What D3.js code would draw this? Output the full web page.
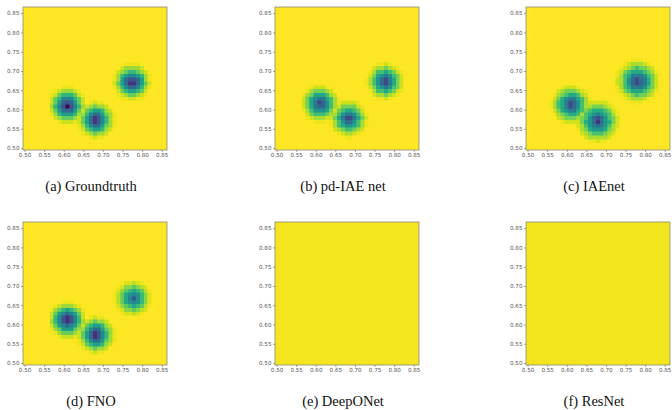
<!DOCTYPE html>
<html>
<head>
<meta charset="utf-8">
<script src="https://cdn.jsdelivr.net/npm/d3@7"></script>
<style>
  body { margin: 0; background: #fff; }
  svg { display: block; }
</style>
</head>
<body>
<svg id="chart" width="672" height="410"></svg>
<script>
// tick labels on both axes
const xTicks = [0.50, 0.55, 0.60, 0.65, 0.70, 0.75, 0.80, 0.85];
const yTicks = [0.50, 0.55, 0.60, 0.65, 0.70, 0.75, 0.80, 0.85];

const panelLabels = ["(a) Groundtruth", "(b) pd-IAE net", "(c) IAEnet",
                     "(d) FNO", "(e) DeepONet", "(f) ResNet"];

// blobs: [x, y, depth, spread]
const groundtruthBlobs = [[0.610, 0.612, 1.00, 0.95], [0.683, 0.575, 0.96, 0.95], [0.775, 0.673, 0.97, 0.95]];
const pdIaeBlobs       = [[0.612, 0.617, 0.90, 0.95], [0.685, 0.578, 0.88, 0.95], [0.778, 0.675, 0.88, 0.95]];
const iaenetBlobs      = [[0.612, 0.615, 0.88, 1.0], [0.680, 0.572, 0.85, 1.1], [0.782, 0.675, 0.88, 1.1]];
const fnoBlobs         = [[0.610, 0.614, 0.98, 0.95], [0.683, 0.575, 0.98, 0.95], [0.778, 0.670, 0.72, 0.95]];
const deeponetBlobs    = [];
const resnetBlobs      = [];
const panelBlobs = [groundtruthBlobs, pdIaeBlobs, iaenetBlobs, fnoBlobs, deeponetBlobs, resnetBlobs];

// background level of each field (1 = top of colormap)
const panelBackground = [1, 1, 1, 1, 0.985, 0.983];

// colour level by half-cell distance from a blob centre
const ringProfile = [0.0, 0.12, 0.25, 0.33, 0.45, 0.55, 0.66, 0.76, 0.85, 0.92, 0.97, 1];

const cellSize = 0.01;
const gridCenters = d3.range(37).map(i => 0.5 + cellSize * i);

const svg = d3.select("#chart");
const plotW = 144, plotH = 143;
const colX = [23, 275, 526];
const rowY = [7, 222];

const x = d3.scaleLinear().domain([0.496, 0.8635]).range([0, plotW]);
const y = d3.scaleLinear().domain([0.495, 0.866]).range([plotH, 0]);
const color = d3.interpolateViridis;

function fieldValue(px, py, blobs, bg) {
  let v = bg;
  blobs.forEach(([bx, by, depth, spread]) => {
    const d = Math.hypot(px - bx, py - by) / (cellSize * spread);
    const idx = Math.round(d * 2);
    const p = idx < ringProfile.length ? ringProfile[idx] : 1;
    v = Math.min(v, 1 - depth * (1 - p));
  });
  return v;
}

panelLabels.forEach((label, k) => {
  const col = k % 3, row = Math.floor(k / 3);
  const g = svg.append("g").attr("transform", `translate(${colX[col]},${rowY[row]})`);

  const cells = [];
  gridCenters.forEach(cx => gridCenters.forEach(cy => {
    cells.push({ cx, cy, v: fieldValue(cx, cy, panelBlobs[k], panelBackground[k]) });
  }));

  g.append("g").attr("shape-rendering", "crispEdges").selectAll("rect")
    .data(cells)
    .join("rect")
    .attr("x", d => x(d.cx - cellSize / 2))
    .attr("y", d => y(d.cy + cellSize / 2))
    .attr("width", d => x(d.cx + cellSize / 2) - x(d.cx - cellSize / 2) + 0.6)
    .attr("height", d => y(d.cy - cellSize / 2) - y(d.cy + cellSize / 2) + 0.6)
    .attr("fill", d => color(d.v))
    .attr("stroke", d => color(d.v))
    .attr("stroke-width", 0.5);

  // clip stray cell edges to the frame
  g.append("rect").attr("x", plotW).attr("y", -2).attr("width", 6).attr("height", plotH + 4).attr("fill", "#fff");
  g.append("rect").attr("x", -6).attr("y", -2).attr("width", 6).attr("height", plotH + 4).attr("fill", "#fff");
  g.append("rect").attr("x", -2).attr("y", -6).attr("width", plotW + 4).attr("height", 6).attr("fill", "#fff");
  g.append("rect").attr("x", -2).attr("y", plotH).attr("width", plotW + 4).attr("height", 6).attr("fill", "#fff");

  g.append("rect")
    .attr("width", plotW).attr("height", plotH)
    .attr("fill", "none").attr("stroke", "#8a8a7a").attr("stroke-width", 0.8);

  const xAxis = g.append("g").attr("transform", `translate(0,${plotH})`)
    .call(d3.axisBottom(x).tickValues(xTicks).tickFormat(d3.format(".2f")).tickSize(2).tickPadding(1.5));
  const yAxis = g.append("g")
    .call(d3.axisLeft(y).tickValues(yTicks).tickFormat(d3.format(".2f")).tickSize(2).tickPadding(1.5));
  [xAxis, yAxis].forEach(a => {
    a.select(".domain").remove();
    a.selectAll("line").attr("stroke", "#666").attr("stroke-width", 0.6);
    a.selectAll("text").attr("fill", "#555").style("font-size", "5.6px")
      .style("font-family", "DejaVu Sans, sans-serif");
  });

  svg.append("text")
    .attr("x", colX[col] + plotW / 2 - 4)
    .attr("y", rowY[row] + plotH + 41)
    .attr("text-anchor", "middle")
    .style("font-family", "Liberation Serif, Times New Roman, serif")
    .style("font-size", "14.5px")
    .attr("fill", "#111")
    .text(label);
});
</script>
</body>
</html>
